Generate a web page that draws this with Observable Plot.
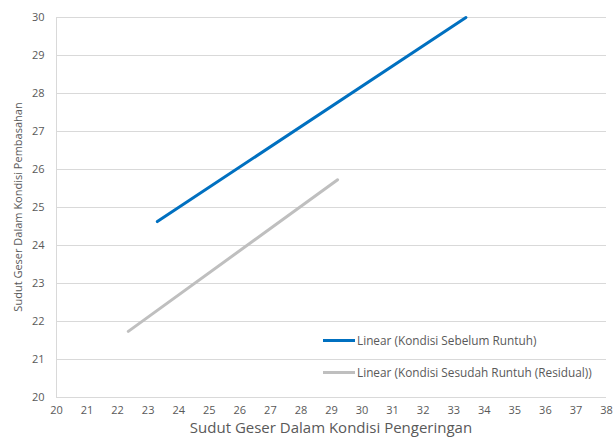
<!DOCTYPE html>
<html>
<head>
<meta charset="utf-8">
<script src="https://cdn.jsdelivr.net/npm/d3@7"></script>
<script src="https://cdn.jsdelivr.net/npm/@observablehq/plot@0.6"></script>
<style>
  html, body { margin: 0; padding: 0; background: #fff; }
  #wrap { position: relative; width: 614px; height: 439px; font-family: "Open Sans", sans-serif; }
  .leg { position: absolute; left: 323px; font-size: 11.8px; color: #595959; display: flex; align-items: center; white-space: nowrap; }
  .sw { display: inline-block; width: 32px; height: 3px; margin-right: 2px; }
</style>
</head>
<body>
<div id="wrap"></div>
<script>
// Series (trend line endpoints)
const seriesNames = ["Linear (Kondisi Sebelum Runtuh)", "Linear (Kondisi Sesudah Runtuh (Residual))"];
const seriesColors = ["#0070C0", "#BFBFBF"];
const blueX = [23.3, 33.4];
const blueY = [24.63, 30.0];
const grayX = [22.35, 29.2];
const grayY = [21.74, 25.73];
const xTicks = d3.range(20, 39, 1);
const yTicks = d3.range(20, 31, 1);

const blue = blueX.map((x, i) => ({x, y: blueY[i]}));
const gray = grayX.map((x, i) => ({x, y: grayY[i]}));

const chart = Plot.plot({
  width: 614,
  height: 439,
  marginLeft: 56,
  marginRight: 8,
  marginTop: 17,
  marginBottom: 42,
  style: {fontFamily: "Open Sans, sans-serif", fontSize: "11px", color: "#595959", background: "#fff"},
  x: {domain: [20, 38], ticks: xTicks, tickSize: 0, tickPadding: 9, label: null},
  y: {domain: [20, 30], ticks: yTicks, tickSize: 0, tickPadding: 12, label: null},
  marks: [
    Plot.ruleY(yTicks, {stroke: "#D9D9D9", strokeWidth: 1}),
    Plot.ruleX([20], {stroke: "#D9D9D9", strokeWidth: 1}),
    Plot.axisX({ticks: xTicks, tickSize: 0, tickPadding: 9, label: null, fill: "#595959"}),
    Plot.axisY({ticks: yTicks, tickSize: 0, tickPadding: 12, label: null, fill: "#595959"}),
    Plot.line(gray, {x: "x", y: "y", stroke: seriesColors[1], strokeWidth: 3}),
    Plot.line(blue, {x: "x", y: "y", stroke: seriesColors[0], strokeWidth: 3})
  ]
});

const wrap = document.getElementById("wrap");
wrap.appendChild(chart);

// Axis titles
const svg = d3.select(chart);
svg.append("text")
  .attr("x", 331).attr("y", 433)
  .attr("text-anchor", "middle")
  .attr("fill", "#595959")
  .style("font-size", "15px")
  .text("Sudut Geser Dalam Kondisi Pengeringan");
svg.append("text")
  .attr("transform", "translate(22,207) rotate(-90)")
  .attr("text-anchor", "middle")
  .attr("fill", "#595959")
  .style("font-size", "11px")
  .text("Sudut Geser Dalam Kondisi Pembasahan");

// Legend
const legTops = [332, 364];
seriesNames.forEach((name, i) => {
  const d = document.createElement("div");
  d.className = "leg";
  d.style.top = legTops[i] + "px";
  d.innerHTML = `<span class="sw" style="background:${seriesColors[i]}"></span><span>${name}</span>`;
  wrap.appendChild(d);
});
</script>
</body>
</html>
